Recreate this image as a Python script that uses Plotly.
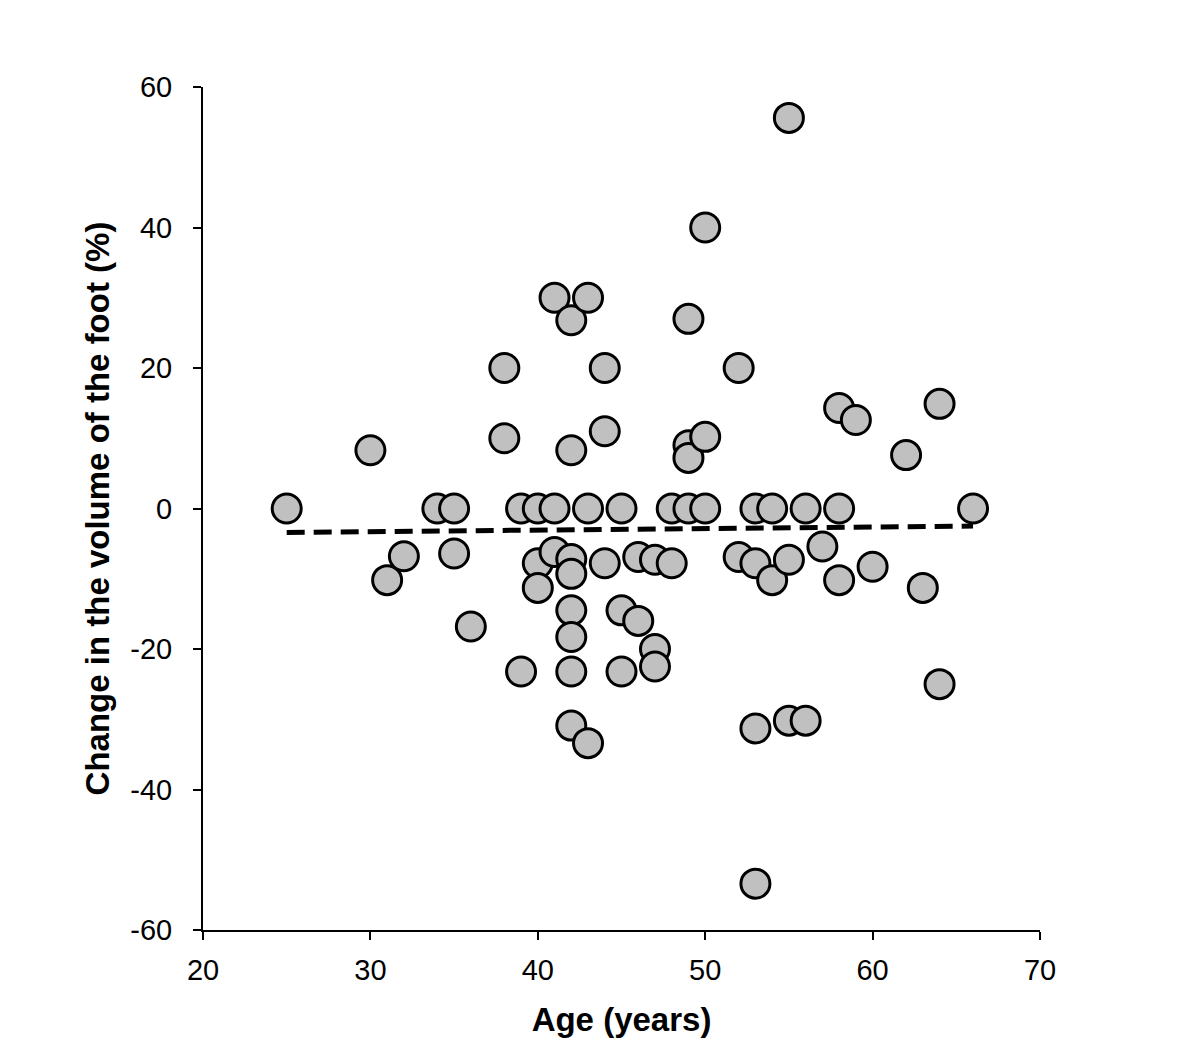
import plotly.graph_objects as go

# Age (years) and change in foot volume (%)
age = [
    25, 30, 31, 32, 34, 35, 35, 36, 38, 38,
    39, 39, 40, 40, 40, 41, 41, 41, 42, 42,
    42, 42, 42, 42, 42, 42, 43, 43, 43, 44,
    44, 44, 45, 45, 45, 46, 46, 47, 47, 47,
    48, 48, 49, 49, 49, 49, 50, 50, 50, 52,
    52, 53, 53, 53, 53, 54, 54, 55, 55, 55,
    56, 56, 57, 58, 58, 58, 59, 60, 62, 63,
    64, 64, 66,
]
volume_change = [
    0, 8.3, -10.2, -6.8, 0, 0, -6.4, -16.8, 20, 10,
    0, -23.2, 0, -7.8, -11.3, 30, 0, -6.2, 26.8, 8.3,
    -7.2, -9.3, -14.5, -18.3, -23.2, -30.9, 30, 0, -33.4, 20,
    11, -7.8, 0, -14.5, -23.2, -6.9, -16, -7.3, -20, -22.5,
    0, -7.8, 27, 9, 7.2, 0, 40, 10.2, 0, 20,
    -6.9, 0, -7.8, -31.3, -53.4, 0, -10.2, 55.6, -7.3, -30.2,
    0, -30.2, -5.4, 14.3, 0, -10.2, 12.6, -8.3, 7.6, -11.3,
    14.9, -25, 0,
]

# Linear trend line end points
trend_age = [25, 66]
trend_change = [-3.4, -2.5]

x_ticks = [20, 30, 40, 50, 60, 70]
y_ticks = [-60, -40, -20, 0, 20, 40, 60]

fig = go.Figure()

fig.add_trace(go.Scatter(
    x=trend_age, y=trend_change,
    mode='lines',
    line=dict(color='black', width=5, dash='18px,9px'),
    showlegend=False,
))

fig.add_trace(go.Scatter(
    x=age, y=volume_change,
    mode='markers',
    marker=dict(size=29, color='#c0c0c0', line=dict(color='black', width=3)),
    showlegend=False,
))

axis_font = dict(family='Liberation Sans, Arial, sans-serif', size=29, color='black')
title_font = dict(family='Liberation Sans, Arial, sans-serif', size=33, color='black')

# page body adds 8px, so margins are shifted to land the plot area on the reference
fig.update_layout(
    width=1200, height=1055,
    margin=dict(l=195, r=168, t=79, b=133),
    plot_bgcolor='white',
    paper_bgcolor='white',
    xaxis=dict(
        range=[20, 70], tickvals=x_ticks, ticktext=[str(v) for v in x_ticks],
        showgrid=False, zeroline=False,
        showline=True, linecolor='black', linewidth=2,
        ticks='outside', ticklen=8, tickwidth=2, tickcolor='black',
        tickfont=axis_font, ticklabelstandoff=5,
        title=dict(text='<b>Age (years)</b>', font=title_font, standoff=23),
    ),
    yaxis=dict(
        range=[-60, 60], tickvals=y_ticks, ticktext=[str(v) for v in y_ticks],
        showgrid=False, zeroline=False,
        showline=True, linecolor='black', linewidth=2,
        ticks='outside', ticklen=8, tickwidth=2, tickcolor='black',
        tickfont=axis_font, ticklabelstandoff=15,
        title=dict(text='<b>Change in the volume of the foot (%)</b>', font=title_font, standoff=11),
    ),
)

fig.write_html("out.html")
